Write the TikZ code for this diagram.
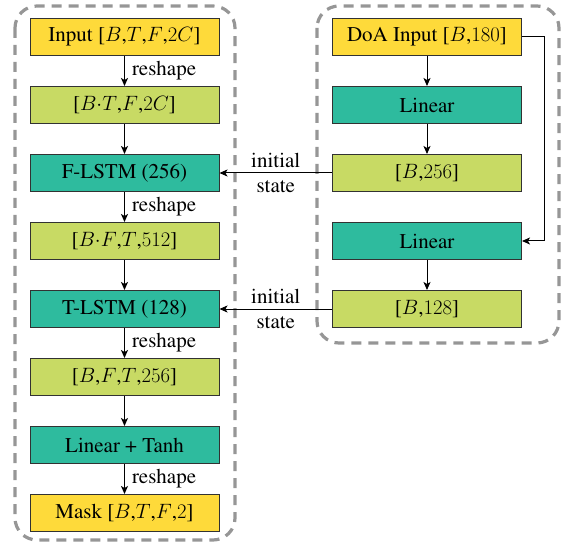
\documentclass[tikz,border=0pt]{standalone}
\usepackage[T1]{fontenc}
\usepackage{times}
\usetikzlibrary{arrows.meta}
\definecolor{cyel}{RGB}{254,218,58}
\definecolor{cgrn}{RGB}{200,218,100}
\definecolor{cteal}{RGB}{46,187,158}
\definecolor{cdash}{RGB}{150,150,150}
\definecolor{cedge}{RGB}{50,50,50}
\tikzset{
  blk/.style={draw=cedge, line width=1pt, minimum width=189pt, minimum height=37pt, inner sep=0pt, font=\fontsize{21}{25}\selectfont},
  yel/.style={blk, fill=cyel},
  grn/.style={blk, fill=cgrn},
  teal/.style={blk, fill=cteal},
  conn/.style={draw=black, line width=1pt, -{Stealth[length=8pt,width=7pt,inset=2pt]}},
  lbl/.style={font=\fontsize{21}{25}\selectfont, inner sep=0pt},
  grp/.style={draw=cdash, line width=3.2pt, dash pattern=on 10pt off 7pt, rounded corners=22pt}
}
\begin{document}
\begin{tikzpicture}[x=1pt,y=-1pt]
\useasboundingbox (0,0) rectangle (562,545);
% groups
\draw[grp] (15,6) rectangle (235,540);
\draw[grp] (317,6) rectangle (559,343);
% left column
\node[yel]  (in)   at (124.5,37)  {Input [$B$,$T$,$F$,$2C$]};
\node[grn]  (r1)   at (124.5,105) {[$B{\cdot}T$,$F$,$2C$]};
\node[teal] (fl)   at (124.5,173) {F-LSTM (256)};
\node[grn]  (r2)   at (124.5,241) {[$B{\cdot}F$,$T$,$512$]};
\node[teal] (tl)   at (124.5,309) {T-LSTM (128)};
\node[grn]  (r3)   at (124.5,377) {[$B$,$F$,$T$,$256$]};
\node[teal] (lt)   at (124.5,445) {Linear + Tanh};
\node[yel]  (mask) at (124.5,513) {Mask [$B$,$T$,$F$,$2$]};
% right column
\node[yel]  (doa)  at (427,37)  {DoA Input [$B$,$180$]};
\node[teal] (lin1) at (427,105) {Linear};
\node[grn]  (b256) at (427,173) {[$B$,$256$]};
\node[teal] (lin2) at (427,241) {Linear};
\node[grn]  (b128) at (427,309) {[$B$,$128$]};
% left connectors
\draw[conn] (in) -- node[lbl, right=7pt] {reshape} (r1);
\draw[conn] (r1) -- (fl);
\draw[conn] (fl) -- node[lbl, right=7pt] {reshape} (r2);
\draw[conn] (r2) -- (tl);
\draw[conn] (tl) -- node[lbl, right=7pt] {reshape} (r3);
\draw[conn] (r3) -- (lt);
\draw[conn] (lt) -- node[lbl, right=7pt] {reshape} (mask);
% right connectors
\draw[conn] (doa) -- (lin1);
\draw[conn] (lin1) -- (b256);
\draw[conn] (lin2) -- (b128);
\coordinate (byA) at (544,37);
\coordinate (byB) at (544,241);
\draw[conn] (doa.east) -- (byA) -- (byB) -- (lin2.east);
% initial states
\draw[conn] (b256.west) -- node[lbl, above=5pt] {initial} node[lbl, below=7pt] {state} (fl.east);
\draw[conn] (b128.west) -- node[lbl, above=5pt] {initial} node[lbl, below=7pt] {state} (tl.east);
\end{tikzpicture}
\end{document}
